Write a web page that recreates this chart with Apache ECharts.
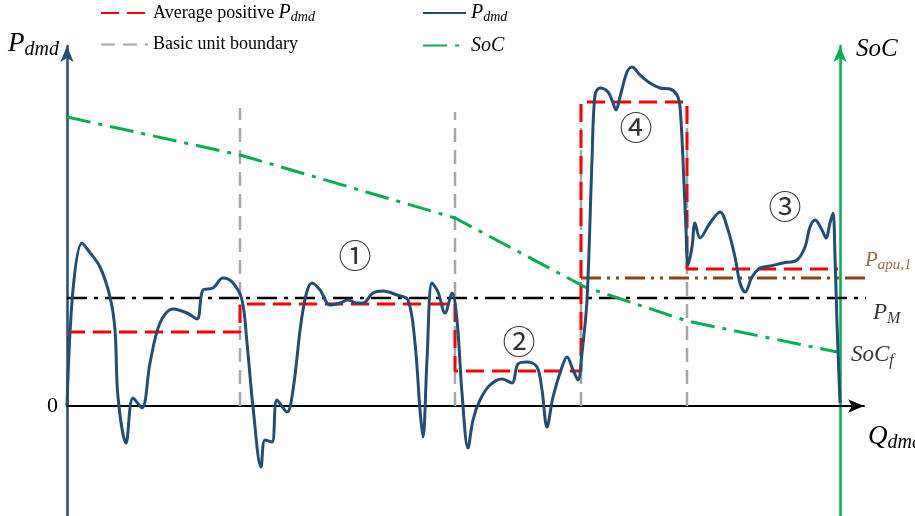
<!DOCTYPE html>
<html>
<head>
<meta charset="utf-8">
<script src="https://cdn.jsdelivr.net/npm/echarts@6/dist/echarts.min.js"></script>
<style>
  html, body { margin: 0; padding: 0; background: #fff; }
  #chart { width: 915px; height: 516px; }
</style>
</head>
<body>
<div id="chart"></div>
<script>
// schematic: demand power P_dmd vs cumulative demand Q_dmd
var pdmdPoints = [
  [67, 0], [73, 116], [82, 163], [88, 156], [100, 139], [110, 109], [115, 76], [118, 9],
  [126, -37], [133, 8], [142, -2], [150, 43], [160, 83], [173, 97], [187, 93], [197, 87],
  [203, 116], [213, 118], [223, 128], [233, 123], [242, 106], [247, 63], [253, -1],
  [261, -61], [265, -34], [272, -36], [277, 6], [287, -6], [293, 16], [303, 96], [312, 123],
  [320, 116], [330, 101], [340, 103], [348, 106], [357, 103], [363, 103], [373, 113],
  [383, 115], [397, 111], [408, 106], [415, 63], [420, -4], [423, -31], [427, 46],
  [432, 123], [438, 114], [445, 93], [452, 113], [457, 86], [462, 13], [468, -42],
  [473, -14], [480, 6], [490, 21], [502, 27], [512, 23], [518, 42], [527, 44], [537, 39],
  [542, 16], [547, -21], [553, 9], [562, 39], [567, 49], [573, 36], [578, 26], [582, 53],
  [587, 106], [592, 246], [595, 311], [600, 318], [608, 314], [613, 303], [616, 296],
  [620, 309], [627, 334], [632, 339], [640, 331], [650, 323], [660, 318], [670, 317],
  [677, 311], [680, 299], [683, 246], [686, 176], [688, 141], [692, 159], [695, 183],
  [700, 168], [710, 183], [720, 194], [728, 176], [735, 149], [740, 123], [745, 114],
  [752, 129], [760, 138], [770, 140], [783, 143], [797, 146], [805, 159], [810, 179],
  [815, 186], [822, 176], [826, 168], [830, 183], [833, 193], [835, 149], [837, 83], [840, 3]
];

// average positive P_dmd per basic unit
var unitEdges = [67, 240, 455, 581, 687, 838];
var unitAvg = [74, 102, 35, 304, 137];

// basic unit boundaries (x and top of dashed line)
var boundaryX = [240, 455, 581, 687];
var boundaryTop = [298, 294, 306, 306];

// state of charge (drawn on the same scale, schematic)
var socPoints = [[67, 289], [240, 251], [455, 188], [585, 119], [687, 85], [837, 54]];

var pmLevel = 108;      // P_M
var papuLevel = 128;    // P_apu,1
var papuStart = 581;
var lineEnd = 910;

// labels: [x, y, text, style]
var notes = [
  [865, 146, '{i|P}{s|apu,1}', 'brown'],
  [873, 93, '{i|P}{s|M}', 'black'],
  [851, 51, '{i|SoC}{s|f}', 'black'],
  [355, 151, '①', 'circ'],
  [519, 65, '②', 'circ'],
  [785, 200, '③', 'circ'],
  [636, 279, '④', 'circ']
];

var NAVY = '#1f4e79', RED = '#ff0000', GRAY = '#a6a6a6', GREEN = '#00b050', BROWN = '#8b4513';
var SERIF = 'Liberation Serif';

function richSet(size, color) {
  return {
    r: { fontFamily: SERIF, fontSize: size, color: color },
    i: { fontFamily: SERIF, fontSize: size + 2, fontStyle: 'italic', color: color },
    s: { fontFamily: SERIF, fontSize: Math.round(size * 0.78), fontStyle: 'italic', color: color, padding: [Math.round(size * 0.5), 0, 0, 0] }
  };
}

var stepData = [];
unitAvg.forEach(function (v, k) {
  stepData.push([unitEdges[k], v]);
  stepData.push([unitEdges[k + 1], v]);
});

var boundarySeries = boundaryX.map(function (x, k) {
  return {
    name: 'Basic unit boundary', type: 'line', symbol: 'none', z: 1,
    lineStyle: { color: GRAY, width: 2.5, type: [14, 8] },
    itemStyle: { color: GRAY },
    data: [[x, 0], [x, boundaryTop[k]]]
  };
});

var legendNames = {
  'Average positive P_dmd': '{r|Average positive }{i|P}{s|dmd}',
  'Basic unit boundary': '{r|Basic unit boundary}',
  'P_dmd': '{i|P}{s|dmd}',
  'SoC': '{i|SoC}'
};

var chart = echarts.init(document.getElementById('chart'));
var option = {
  animation: false,
  backgroundColor: '#fff',
  grid: { left: 67, right: 51, top: 46, bottom: 0, containLabel: false, outerBoundsMode: 'none' },
  legend: [
    {
      orient: 'vertical', left: 100, top: 3, padding: 0, itemWidth: 47, itemHeight: 14, itemGap: 11,
      itemStyle: { opacity: 0 },
      data: ['Average positive P_dmd', 'Basic unit boundary'],
      formatter: function (n) { return legendNames[n]; },
      textStyle: { rich: richSet(18, '#000') }
    },
    {
      orient: 'vertical', left: 422, top: 3, padding: 0, itemWidth: 43, itemHeight: 14, itemGap: 11,
      itemStyle: { opacity: 0 },
      data: ['P_dmd', 'SoC'],
      formatter: function (n) { return legendNames[n]; },
      textStyle: { rich: richSet(18, '#000') }
    }
  ],
  xAxis: {
    type: 'value', min: 67, max: 864,
    name: '{i|Q}{s|dmd}', nameLocation: 'end', nameGap: 4,
    nameTextStyle: { align: 'left', verticalAlign: 'top', padding: [14, 0, 0, 0], rich: richSet(25, '#000') },
    axisLine: { onZero: true, lineStyle: { color: '#000', width: 2 }, symbol: ['none', 'arrow'], symbolSize: [10, 16] },
    axisTick: { show: false }, axisLabel: { show: false }, splitLine: { show: false }
  },
  yAxis: [
    {
      type: 'value', min: -110, max: 360, interval: 110, position: 'left',
      name: '{i|P}{s|dmd}', nameLocation: 'end', nameGap: -14,
      nameTextStyle: { align: 'right', verticalAlign: 'bottom', padding: [0, 8, 0, 0], rich: richSet(25, '#000') },
      axisLine: { onZero: false, lineStyle: { color: NAVY, width: 2.5 }, symbol: ['none', 'arrow'], symbolSize: [10, 16] },
      axisTick: { show: false },
      axisLabel: {
        fontFamily: SERIF, fontSize: 22, color: '#000', margin: 9, padding: [8, 0, 0, 0],
        formatter: function (v) { return v === 0 ? '0' : ''; }
      },
      splitLine: { show: false }
    },
    {
      type: 'value', min: -110, max: 360, position: 'right', offset: -24,
      name: '{i|SoC}', nameLocation: 'end', nameGap: -16,
      nameTextStyle: { align: 'left', verticalAlign: 'bottom', padding: [0, 0, 0, 16], rich: richSet(23, '#000') },
      axisLine: { onZero: false, lineStyle: { color: GREEN, width: 2.5 }, symbol: ['none', 'arrow'], symbolSize: [10, 16] },
      axisTick: { show: false }, axisLabel: { show: false }, splitLine: { show: false }
    }
  ],
  series: [
    {
      name: 'Average positive P_dmd', type: 'line', symbol: 'none', z: 3,
      lineStyle: { color: RED, width: 3, type: [18, 8] },
      itemStyle: { color: RED },
      data: stepData
    }
  ].concat(boundarySeries).concat([
    {
      name: 'P_M', type: 'line', symbol: 'none', clip: false, z: 2,
      lineStyle: { color: '#000', width: 2.5, type: [20, 7, 4, 7] },
      data: [[67, pmLevel], [lineEnd, pmLevel]]
    },
    {
      name: 'P_apu,1', type: 'line', symbol: 'none', clip: false, z: 2,
      lineStyle: { color: BROWN, width: 3, type: [20, 6, 3, 6, 3, 6] },
      data: [[papuStart, papuLevel], [lineEnd, papuLevel]]
    },
    {
      name: 'SoC', type: 'line', symbol: 'none', z: 3,
      lineStyle: { color: GREEN, width: 3, type: [24, 8, 4, 8] },
      itemStyle: { color: GREEN },
      data: socPoints
    },
    {
      name: 'P_dmd', type: 'line', symbol: 'none', smooth: 0.35, z: 4,
      lineStyle: { color: NAVY, width: 3 },
      itemStyle: { color: NAVY },
      data: pdmdPoints
    },
    {
      name: 'notes', type: 'scatter', symbolSize: 0, clip: false, z: 5, silent: true,
      itemStyle: { color: 'rgba(0,0,0,0)' },
      data: notes.map(function (n) {
        var circ = n[3] === 'circ';
        var col = n[3] === 'brown' ? BROWN : '#000';
        return {
          value: [n[0], n[1]],
          label: {
            show: true, formatter: n[2],
            position: circ ? 'inside' : 'right', distance: 0,
            fontFamily: circ ? 'Noto Sans CJK SC' : SERIF, fontSize: circ ? 33 : 28, color: '#000',
            rich: circ ? {} : richSet(n[3] === 'brown' ? 19 : 21, col)
          }
        };
      })
    }
  ])
};
chart.setOption(option);
</script>
</body>
</html>
